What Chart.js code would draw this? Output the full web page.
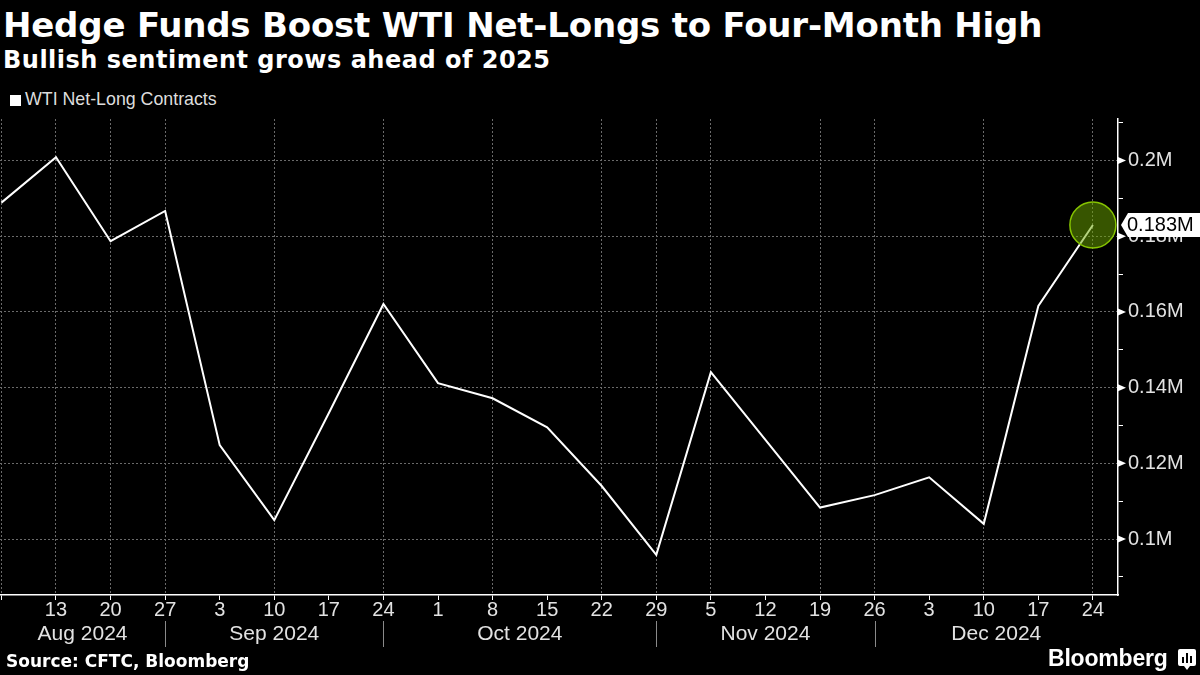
<!DOCTYPE html>
<html>
<head>
<meta charset="utf-8">
<script src="https://cdn.jsdelivr.net/npm/chart.js@4.4.1/dist/chart.umd.min.js"></script>
<style>
  html, body { margin: 0; padding: 0; background: #000; }
  body { width: 1200px; height: 675px; position: relative; overflow: hidden; color: #fff; }
  .txt { position: absolute; white-space: nowrap; }
  #title { left: 3px; top: 8px; font: bold 34px/34px "DejaVu Sans"; letter-spacing: -0.2px; }
  #subtitle { left: 3px; top: 48px; font: bold 24px/24px "DejaVu Sans"; letter-spacing: 0.5px; }
  #legendBox { position: absolute; left: 10px; top: 95px; width: 11px; height: 11px; background: #fff; }
  #legendText { left: 25px; top: 91px; font: 17.8px/17.8px "Liberation Sans"; color: #ddd; }
  #source { left: 6px; top: 653px; font: bold 17px/17px "DejaVu Sans"; }
  #brand { left: 1048px; top: 647px; font: bold 23px/23px "Liberation Sans"; letter-spacing: -0.2px; }
  #logo { position: absolute; left: 1178px; top: 649px; }
  #chart { position: absolute; left: 0; top: 104px; }
</style>
</head>
<body>
<div class="txt" id="title">Hedge Funds Boost WTI Net-Longs to Four-Month High</div>
<div class="txt" id="subtitle">Bullish sentiment grows ahead of 2025</div>
<div id="legendBox"></div>
<div class="txt" id="legendText">WTI Net-Long Contracts</div>
<canvas id="chart" width="1200" height="566"></canvas>
<div class="txt" id="source">Source: CFTC, Bloomberg</div>
<div class="txt" id="brand">Bloomberg</div>
<svg id="logo" width="18" height="21" viewBox="0 0 18 21">
  <path d="M2 0h14a2 2 0 0 1 2 2v13a2 2 0 0 1-2 2h-4l-3 4-3-4H2a2 2 0 0 1-2-2V2a2 2 0 0 1 2-2z" fill="#fff"/>
  <rect x="4" y="8" width="2" height="6" fill="#000"/>
  <rect x="8" y="4" width="2" height="10" fill="#000"/>
  <rect x="12" y="7" width="2" height="7" fill="#000"/>
</svg>
<script>
// weekly CFTC reports, Aug 6 - Dec 24 2024
const weekDays = ['6', '13', '20', '27', '3', '10', '17', '24', '1', '8', '15', '22', '29', '5', '12', '19', '26', '3', '10', '17', '24'];
// net-long contracts, millions
const netLongs = [0.1889, 0.2009, 0.1787, 0.1867, 0.1248, 0.1050, 0.1333, 0.1621, 0.1412, 0.1372, 0.1295,
                  0.1140, 0.0958, 0.1441, 0.1262, 0.1083, 0.1116, 0.1163, 0.1040, 0.1616, 0.1830];
const monthLabels = ['Aug 2024', 'Sep 2024', 'Oct 2024', 'Nov 2024', 'Dec 2024'];
const monthBreaks = [3, 7, 12, 16]; // last week of each month
const yTickLabels = [0.1, 0.12, 0.14, 0.16, 0.18, 0.2];

const gridWeeks = new Set([0, 1, 2, 3, 5, 7, 9, 11, 12, 13, 15, 16, 18, 20]);
const gridColor = '#6a6a6a';
const labelColor = '#e2e2e2';

const isLabeled = v => yTickLabels.some(t => Math.abs(t - v) < 0.001);

const extras = {
    id: 'extras',
    afterDraw(chart) {
        const { ctx, chartArea, scales: { x, y } } = chart;
        ctx.save();

        // month separators and labels
        const edges = [chartArea.left, ...monthBreaks.map(b => x.getPixelForValue(b)), chartArea.right];
        ctx.strokeStyle = '#8a8a8a';
        ctx.lineWidth = 1;
        monthBreaks.forEach((b, i) => {
            const px = Math.round(edges[i + 1]) + 0.5;
            ctx.beginPath();
            ctx.moveTo(px, chartArea.bottom + 26);
            ctx.lineTo(px, chartArea.bottom + 52);
            ctx.stroke();
        });
        ctx.fillStyle = labelColor;
        ctx.font = '21px "Liberation Sans"';
        ctx.textAlign = 'center';
        ctx.textBaseline = 'middle';
        monthLabels.forEach((m, i) => {
            ctx.fillText(m, (edges[i] + edges[i + 1]) / 2, chartArea.bottom + 39);
        });

        // arrow markers on labelled y ticks
        ctx.fillStyle = '#fff';
        yTickLabels.forEach(v => {
            const py = y.getPixelForValue(v);
            ctx.beginPath();
            ctx.moveTo(chartArea.right, py - 3.5);
            ctx.lineTo(chartArea.right + 8, py);
            ctx.lineTo(chartArea.right, py + 3.5);
            ctx.closePath();
            ctx.fill();
        });

        // latest value tag
        const last = netLongs[netLongs.length - 1];
        const py = y.getPixelForValue(last);
        const r = chartArea.right;
        ctx.beginPath();
        ctx.moveTo(r + 3, py);
        ctx.lineTo(r + 10, py - 12);
        ctx.lineTo(chart.width, py - 12);
        ctx.lineTo(chart.width, py + 12);
        ctx.lineTo(r + 10, py + 12);
        ctx.closePath();
        ctx.fill();
        ctx.fillStyle = '#000';
        ctx.font = '20px "Liberation Sans"';
        ctx.textAlign = 'left';
        ctx.fillText(last.toFixed(3) + 'M', r + 9, py + 1);

        ctx.restore();
    }
};

new Chart(document.getElementById('chart'), {
    type: 'line',
    data: {
        datasets: [{
            label: 'WTI Net-Long Contracts',
            data: netLongs.map((v, i) => ({ x: i, y: v })),
            borderColor: '#fff',
            borderWidth: 2,
            tension: 0,
            pointRadius: c => c.dataIndex === netLongs.length - 1 ? 23 : 0,
            pointHoverRadius: 0,
            pointBackgroundColor: 'rgba(110,170,0,0.5)',
            pointBorderColor: '#86c400',
            pointBorderWidth: 1.5
        }]
    },
    options: {
        responsive: false,
        animation: false,
        events: [],
        layout: { autoPadding: false, padding: { top: 10, left: 0, right: 0, bottom: 0 } },
        plugins: {
            legend: { display: false },
            tooltip: { enabled: false }
        },
        scales: {
            x: {
                type: 'linear',
                min: -0.026,
                max: 20.46,
                afterFit: s => { s.height = 75; },
                grid: {
                    color: c => gridWeeks.has(c.tick.value) ? gridColor : 'rgba(0,0,0,0)',
                    tickColor: '#fff',
                    tickLength: 5,
                    lineWidth: 1
                },
                border: { color: '#fff', width: 1.5, dash: [2, 2] },
                ticks: {
                    stepSize: 1,
                    includeBounds: false,
                    autoSkip: false,
                    maxRotation: 0,
                    padding: 0,
                    color: labelColor,
                    font: { size: 20, lineHeight: 1 },
                    callback: v => v === 0 ? '' : weekDays[v]
                }
            },
            y: {
                position: 'right',
                min: 0.0852,
                max: 0.211,
                afterFit: s => { s.width = 82; },
                grid: {
                    color: c => isLabeled(c.tick.value) ? gridColor : 'rgba(0,0,0,0)',
                    tickColor: '#fff',
                    tickLength: 5,
                    lineWidth: 1
                },
                border: { color: '#fff', width: 1.5, dash: [2, 2] },
                ticks: {
                    stepSize: 0.01,
                    includeBounds: false,
                    padding: 5,
                    color: labelColor,
                    font: { size: 20, lineHeight: 1 },
                    callback: v => isLabeled(v) ? (Math.round(v * 100) / 100) + 'M' : ''
                }
            }
        }
    },
    plugins: [extras]
});
</script>
</body>
</html>
